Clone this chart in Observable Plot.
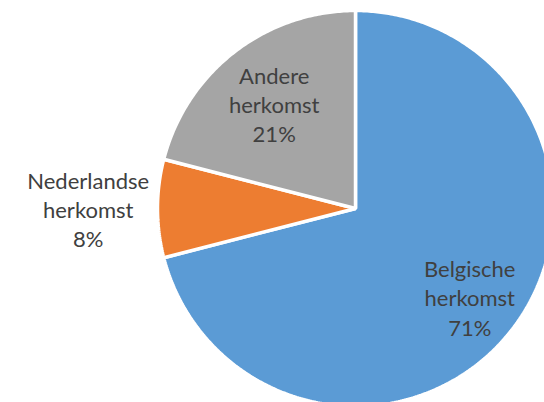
<!DOCTYPE html>
<html>
<head>
<meta charset="utf-8">
<script src="https://cdn.jsdelivr.net/npm/d3@7"></script>
<script src="https://cdn.jsdelivr.net/npm/@observablehq/plot@0.6"></script>
<style>
html, body { margin: 0; padding: 0; background: #fff; }
svg { overflow: hidden; display: block; }
</style>
</head>
<body>
<div id="chart"></div>
<script>
// Data
const categories = ["Belgische herkomst", "Nederlandse herkomst", "Andere herkomst"];
const shares = [71, 8, 21];
const labelNames = [["Belgische", "herkomst"], ["Nederlandse", "herkomst"], ["Andere", "herkomst"]];
const colors = ["#5B9BD5", "#ED7D31", "#A5A5A5"];
// label distance from centre, in radii
const labelRadius = [0.73, 1.35, 0.67];

const W = 544, H = 402;
const cx = 355, cy = 208, R = 198;

const total = d3.sum(shares);
const pie = d3.pie().sort(null).value(d => d)(shares);

// polygon vertices for each slice (unit circle coordinates)
const pts = [];
pie.forEach((s, i) => {
  const n = Math.max(4, Math.ceil((s.endAngle - s.startAngle) / 0.01));
  pts.push({cat: categories[i], x: 0, y: 0});
  for (let k = 0; k <= n; k++) {
    const a = s.startAngle + (s.endAngle - s.startAngle) * k / n;
    pts.push({cat: categories[i], x: Math.sin(a), y: Math.cos(a)});
  }
});

const labels = pie.map((s, i) => {
  const a = (s.startAngle + s.endAngle) / 2;
  return {
    cat: categories[i],
    x: labelRadius[i] * Math.sin(a),
    y: labelRadius[i] * Math.cos(a),
    text: labelNames[i].join("\n") + "\n" + Math.round(s.value / total * 100) + "%"
  };
});

const chart = Plot.plot({
  width: W,
  height: H,
  margin: 0,
  x: {domain: [-cx / R, (W - cx) / R], axis: null},
  y: {domain: [(cy - H) / R, cy / R], axis: null},
  color: {domain: categories, range: colors},
  style: {background: "#fff", overflow: "hidden"},
  marks: [
    Plot.line(pts, {x: "x", y: "y", z: "cat", fill: "cat", stroke: "white", strokeWidth: 3.5, strokeLinejoin: "miter", curve: "linear-closed"}),
    Plot.text(labels, {x: "x", y: "y", text: "text", fill: "#404040", fontSize: 22, lineHeight: 1.33, textAnchor: "middle", lineAnchor: "middle", fontFamily: "Lato"})
  ]
});
document.getElementById("chart").appendChild(chart);
</script>
</body>
</html>
